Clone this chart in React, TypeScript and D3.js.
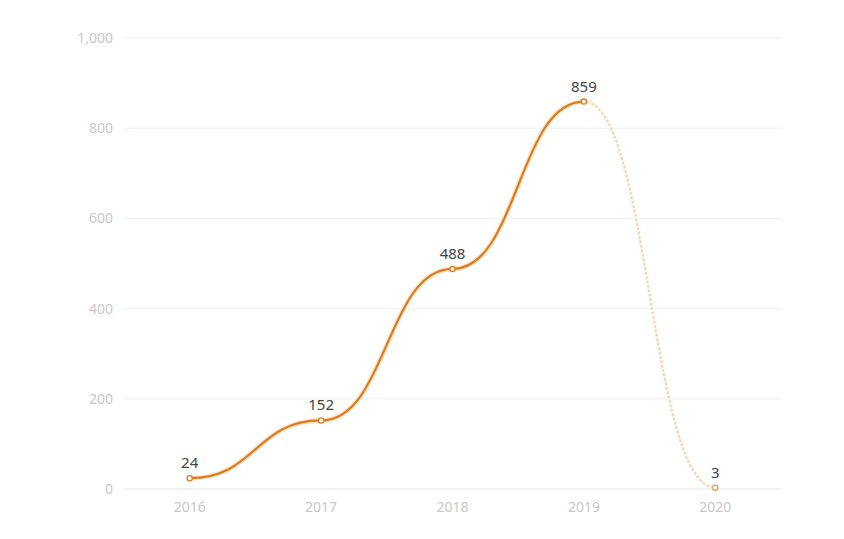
import React from "react";
import * as d3 from "d3";

const years = ["2016", "2017", "2018", "2019", "2020"];
const values = [24, 152, 488, 859, 3];
const yTicks = [0, 200, 400, 600, 800, 1000];

const W = 844, H = 539;
const left = 124, right = 781, top = 38, bottom = 489;

export default function App() {
  const x = d3.scalePoint<string>().domain(years).range([left, right]).padding(0.5);
  const y = d3.scaleLinear().domain([0, 1000]).range([bottom, top]);
  const pts = years.map((yr, i) => [x(yr)!, y(values[i])] as [number, number]);
  const line = d3.line<[number, number]>().curve(d3.curveBumpX);
  const solid = line(pts.slice(0, 4))!;
  const dotted = line(pts.slice(3, 5))!;
  const fmt = d3.format(",");
  const font = "'Noto Sans', 'Open Sans', sans-serif";
  return (
    <svg width={W} height={H} style={{ position: "absolute", left: 0, top: 0, background: "#fff" }}>
      {yTicks.map((t) => (
        <g key={t}>
          <line x1={left} x2={right} y1={y(t)} y2={y(t)} stroke={t === 0 ? "#e4e4e4" : "#f0f0f0"} strokeWidth={1} />
          <text x={113} y={y(t)} dy="0.35em" textAnchor="end" fontSize={14} fill="#c8c8c8" fontFamily={font}>{fmt(t)}</text>
        </g>
      ))}
      {years.map((yr) => (
        <text key={yr} x={x(yr)} y={512} textAnchor="middle" fontSize={14} fill="#c8c8c8" fontFamily={font}>{yr}</text>
      ))}
      <path d={dotted} fill="none" stroke="#fef6ec" strokeWidth={4} />
      <path d={dotted} fill="none" stroke="#ecd2b2" strokeWidth={2} strokeDasharray="0.5 4" strokeLinecap="round" />
      <path d={solid} fill="none" stroke="#fbe5cc" strokeWidth={5} />
      <path d={solid} fill="none" stroke="#df7a1c" strokeWidth={2.2} />
      {pts.map((p, i) => (
        <g key={i}>
          <circle cx={p[0]} cy={p[1]} r={2.6} fill="#fff" stroke={i === 4 ? "#e3a050" : "#df7a1c"} strokeWidth={1.3} />
          <text x={p[0]} y={p[1] - 10} textAnchor="middle" fontSize={15} fill="#444" fontFamily={font}>{values[i]}</text>
        </g>
      ))}
    </svg>
  );
}
